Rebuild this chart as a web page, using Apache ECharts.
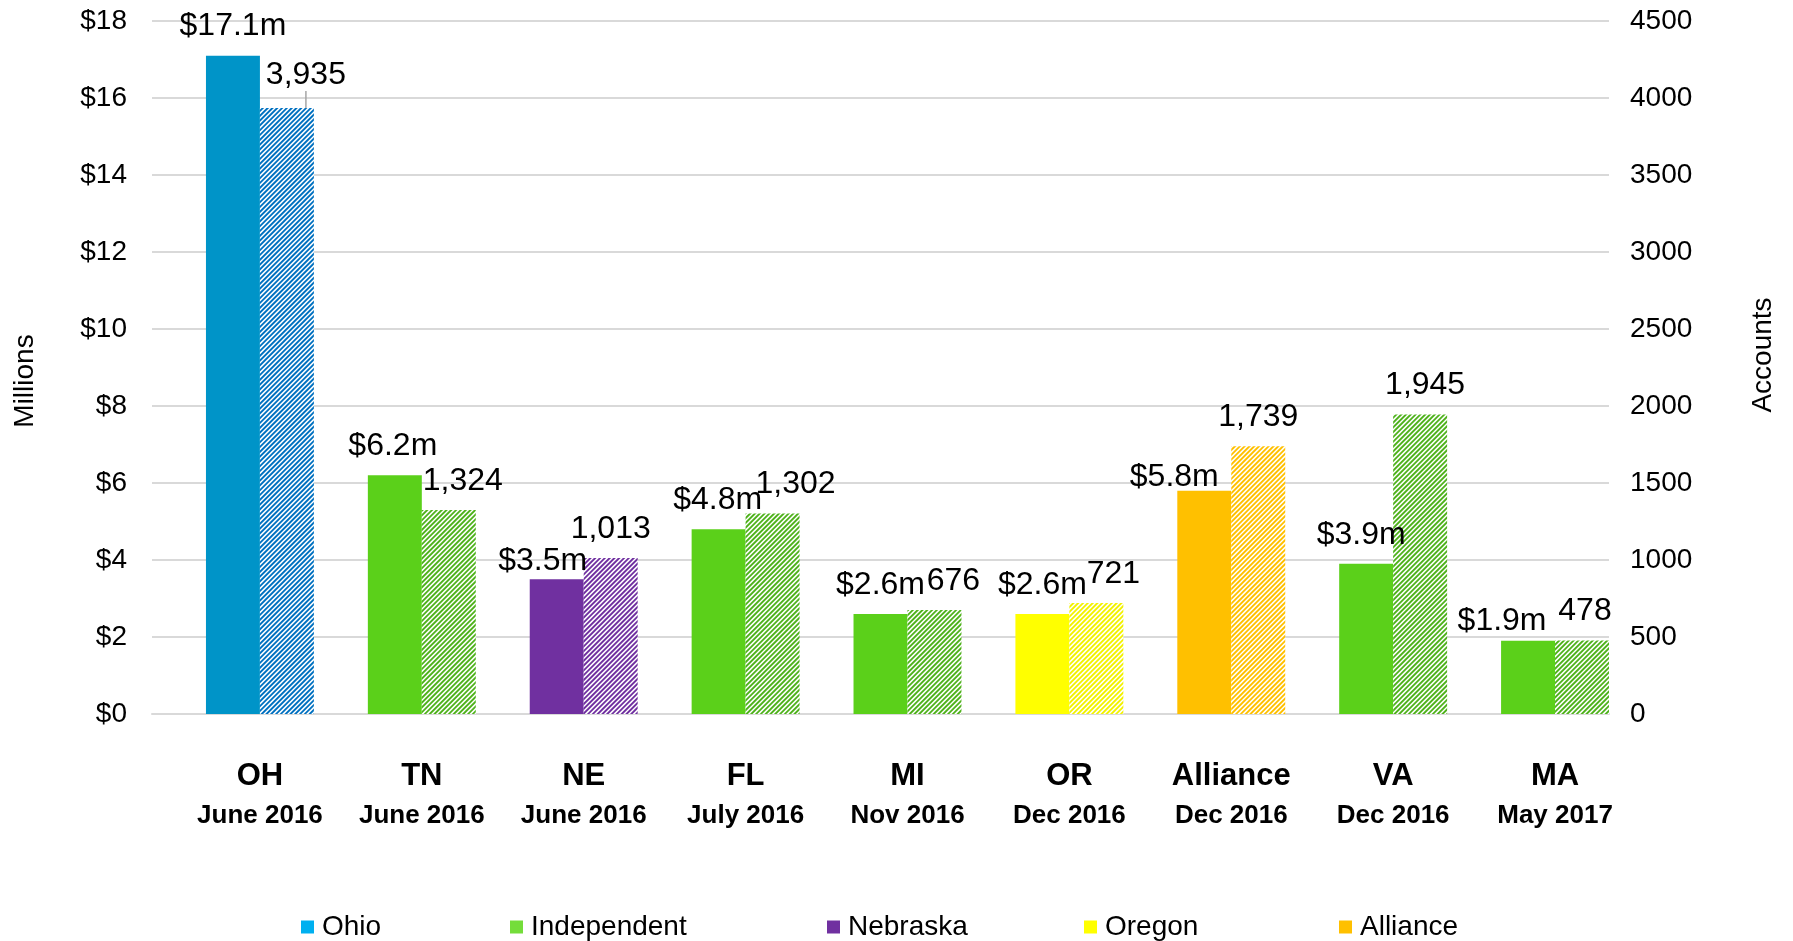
<!DOCTYPE html>
<html>
<head>
<meta charset="utf-8">
<title>Funding and accounts by program launch</title>
<script src="https://cdn.jsdelivr.net/npm/echarts@6/dist/echarts.min.js"></script>
<style>
  html, body { margin: 0; padding: 0; background: #fff; }
  #chart { width: 1793px; height: 941px; }
</style>
</head>
<body>
<div id="chart"></div>
<script>
// values
const states = ['OH', 'TN', 'NE', 'FL', 'MI', 'OR', 'Alliance', 'VA', 'MA'];
const launchDates = ['June 2016', 'June 2016', 'June 2016', 'July 2016', 'Nov 2016', 'Dec 2016', 'Dec 2016', 'Dec 2016', 'May 2017'];
const millions = [17.1, 6.2, 3.5, 4.8, 2.6, 2.6, 5.8, 3.9, 1.9];
const accounts = [3935, 1324, 1013, 1302, 676, 721, 1739, 1945, 478];
const programs = ['Ohio', 'Independent', 'Nebraska', 'Independent', 'Independent', 'Oregon', 'Alliance', 'Independent', 'Independent'];
const legendNames = ['Ohio', 'Independent', 'Nebraska', 'Oregon', 'Alliance'];

const palette = {
  Ohio:        { solid: '#0094c8', hatch: '#0070c0', legend: '#00b0f0' },
  Independent: { solid: '#5bd01a', hatch: '#4fb21c', legend: '#74dd3a' },
  Nebraska:    { solid: '#7030a0', hatch: '#7030a0', legend: '#7030a0' },
  Oregon:      { solid: '#ffff00', hatch: '#f2f200', legend: '#ffff00' },
  Alliance:    { solid: '#ffc000', hatch: '#ffc000', legend: '#ffc000' }
};

// small nudges so labels sit where the original put them
const moneyNudge = [[0, 0], [-2, 0], [-14, 11], [-1, 0], [0, 0], [0, 0], [-30, 15], [-5, 0], [-26, 9]];
const accountNudge = [[19, -4], [14, 0], [0, 0], [23, 0], [19, 0], [17, 0], [0, 0], [5, 0], [3, 0]];
// x of each legend entry (the original spaces them unevenly)
const legendLeft = [301, 510, 827, 1084, 1339];

const font = "'Liberation Sans', Arial, sans-serif";

// diagonal stripe tile, white between the stripes
function hatch(hex) {
  const size = 24, period = 4.8, sub = 4, fill = 0.55;
  const c = document.createElement('canvas');
  c.width = c.height = size;
  const ctx = c.getContext('2d');
  const img = ctx.createImageData(size, size);
  const r = parseInt(hex.slice(1, 3), 16), g = parseInt(hex.slice(3, 5), 16), b = parseInt(hex.slice(5, 7), 16);
  for (let y = 0; y < size; y++) {
    for (let x = 0; x < size; x++) {
      let hit = 0;
      for (let i = 0; i < sub; i++) {
        for (let j = 0; j < sub; j++) {
          const s = (x + (i + 0.5) / sub) + (y + (j + 0.5) / sub);
          if ((s % period) < period * fill) hit++;
        }
      }
      const f = hit / (sub * sub);
      const k = (y * size + x) * 4;
      img.data[k] = Math.round(255 * (1 - f) + r * f);
      img.data[k + 1] = Math.round(255 * (1 - f) + g * f);
      img.data[k + 2] = Math.round(255 * (1 - f) + b * f);
      img.data[k + 3] = 255;
    }
  }
  ctx.putImageData(img, 0, 0);
  return c;
}

const hatchCache = {};
function hatchFor(program) {
  if (!hatchCache[program]) {
    hatchCache[program] = { image: hatch(palette[program].hatch), repeat: 'repeat' };
  }
  return hatchCache[program];
}

const chart = echarts.init(document.getElementById('chart'), null, { renderer: 'canvas' });

const option = {
  animation: false,
  backgroundColor: '#fff',
  textStyle: { fontFamily: font },
  grid: { left: 152, right: 184, top: 21, bottom: 227 },
  legend: legendNames.map((name, i) => ({
    data: [name],
    icon: 'rect',
    itemWidth: 13,
    itemHeight: 13,
    left: legendLeft[i],
    top: 913,
    padding: 0,
    selectedMode: false,
    textStyle: { fontSize: 28, color: '#000', fontFamily: font, padding: [0, 0, 0, 3] }
  })),
  graphic: [
    {
      type: 'text', x: 25, y: 381, rotation: Math.PI / 2,
      style: { text: 'Millions', font: '28px ' + font, fill: '#000', align: 'center', verticalAlign: 'middle' }
    },
    {
      type: 'text', x: 1763, y: 355, rotation: Math.PI / 2,
      style: { text: 'Accounts', font: '28px ' + font, fill: '#000', align: 'center', verticalAlign: 'middle' }
    }
  ],
  xAxis: {
    type: 'category',
    data: states,
    axisLine: { lineStyle: { color: '#d9d9d9', width: 2 } },
    axisTick: { show: false },
    axisLabel: {
      interval: 0,
      margin: 42,
      padding: [0, 0, 0, 54],
      formatter: (v, i) => '{a|' + v + '}\n{b|' + launchDates[i] + '}',
      rich: {
        a: { fontSize: 31, fontWeight: 'bold', color: '#000', lineHeight: 40, fontFamily: font },
        b: { fontSize: 26, fontWeight: 'bold', color: '#000', lineHeight: 40, fontFamily: font }
      }
    }
  },
  yAxis: [
    {
      type: 'value',
      min: 0,
      max: 18,
      interval: 2,
      axisLine: { show: false },
      axisTick: { show: false },
      splitLine: { lineStyle: { color: '#d9d9d9', width: 2 } },
      axisLabel: { margin: 25, fontSize: 28, color: '#000', formatter: v => '$' + v }
    },
    {
      type: 'value',
      min: 0,
      max: 4500,
      interval: 500,
      axisLine: { show: false },
      axisTick: { show: false },
      splitLine: { show: false },
      axisLabel: { margin: 21, fontSize: 28, color: '#000', formatter: v => String(v) }
    }
  ],
  series: [
    // empty slot that pushes each bar pair to the right side of its category
    {
      name: 'gap',
      type: 'bar',
      data: [],
      barGap: '0%',
      barCategoryGap: '0%',
      silent: true
    },
    {
      name: 'Millions',
      type: 'bar',
      yAxisIndex: 0,
      barGap: '0%',
      barCategoryGap: '0%',
      data: millions.map((v, i) => ({ value: v, itemStyle: { color: palette[programs[i]].solid } })),
      label: {
        show: true,
        position: 'top',
        distance: 13,
        fontSize: 32,
        color: '#000',
        formatter: p => '$' + p.value.toFixed(1) + 'm'
      },
      labelLayout: p => ({ dx: moneyNudge[p.dataIndex][0], dy: moneyNudge[p.dataIndex][1] })
    },
    {
      name: 'Accounts',
      type: 'bar',
      yAxisIndex: 1,
      barGap: '0%',
      barCategoryGap: '0%',
      data: accounts.map((v, i) => {
        const item = { value: v, itemStyle: { color: hatchFor(programs[i]) } };
        if (i === 0) item.labelLine = { show: true };
        return item;
      }),
      label: {
        show: true,
        position: 'top',
        distance: 13,
        fontSize: 32,
        color: '#000',
        formatter: p => p.value.toLocaleString('en-US')
      },
      labelLine: { show: false, lineStyle: { color: '#a6a6a6', width: 1.5 } },
      labelLayout: p => ({ dx: accountNudge[p.dataIndex][0], dy: accountNudge[p.dataIndex][1] })
    }
  ].concat(legendNames.map(name => ({
    name: name,
    type: 'line',
    data: [],
    itemStyle: { color: palette[name].legend },
    lineStyle: { color: palette[name].legend }
  })))
};

chart.setOption(option);
window.addEventListener('resize', () => chart.resize());
</script>
</body>
</html>
